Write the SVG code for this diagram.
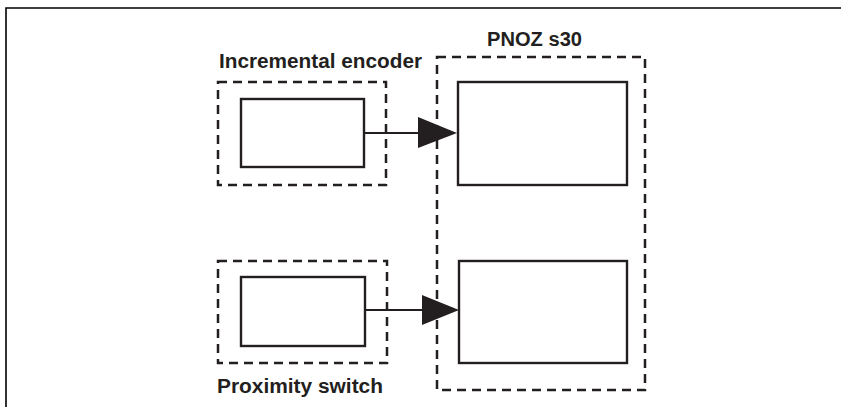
<svg xmlns="http://www.w3.org/2000/svg" width="841" height="407" viewBox="0 0 841 407">
<style>
.frame{fill:none;stroke:#000;stroke-width:1.6}
.box{fill:#fff;stroke:#231f20;stroke-width:2.4}
.dash{fill:none;stroke:#231f20;stroke-width:2.5;stroke-dasharray:9 6}
.lbl{font-family:"Liberation Sans",Arial,sans-serif;font-weight:bold;font-size:19.5px;fill:#231f20}
.wire{stroke:#231f20;stroke-width:2.2;fill:none}
.head{fill:#231f20}
</style>
<rect width="841" height="407" fill="#fff"/>
<path class="frame" d="M6 407 V8 H841"/>
<g id="encoder">
<rect class="dash" x="218" y="82" width="168" height="103"/>
<rect class="box" x="241" y="99" width="123" height="68"/>
<text class="lbl" x="219" y="68" textLength="203" lengthAdjust="spacingAndGlyphs">Incremental encoder</text>
</g>
<g id="proximity">
<rect class="dash" x="218" y="261" width="169" height="102"/>
<rect class="box" x="241" y="277" width="124" height="69"/>
<text class="lbl" x="217" y="393" textLength="166" lengthAdjust="spacingAndGlyphs">Proximity switch</text>
</g>
<g id="pnoz">
<rect class="dash" x="437" y="57" width="208" height="333"/>
<text class="lbl" x="487" y="46" textLength="95" lengthAdjust="spacingAndGlyphs">PNOZ s30</text>
</g>
<g id="pnoz-in1">
<rect class="box" x="458" y="82" width="169" height="103"/>
</g>
<g id="pnoz-in2">
<rect class="box" x="459" y="261" width="168" height="102"/>
</g>
<g id="connectors">
<line class="wire" x1="364" y1="133" x2="420" y2="133"/>
<polygon class="head" points="418,117 457,133 418,148"/>
<line class="wire" x1="365" y1="310" x2="424" y2="310"/>
<polygon class="head" points="422,295 459,310 422,325"/>
</g>
</svg>
